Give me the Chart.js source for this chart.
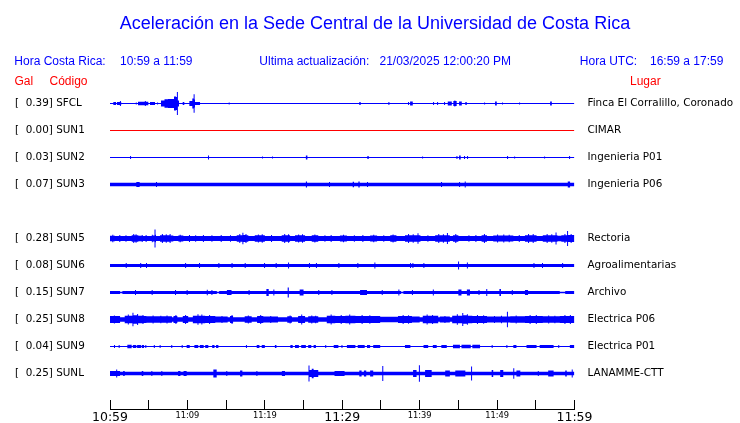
<!DOCTYPE html>
<html lang="es">
<head>
<meta charset="utf-8">
<title>Aceleración - Sede Central UCR</title>
<script src="https://cdn.jsdelivr.net/npm/chart.js@4.4.1/dist/chart.umd.min.js"></script>
<style>
  html, body { margin: 0; padding: 0; background: #fff; }
  #wrap { position: relative; width: 740px; height: 423px; overflow: hidden; }
  #chart { position: absolute; left: 0; top: 0; }
  .hdr {
    position: absolute;
    font-family: "Liberation Sans", Arial, sans-serif;
    font-size: 12px;
    line-height: 14px;
    white-space: pre;
    color: #0000ff;
  }
  .red { color: #ff0000; }
</style>
</head>
<body>
<div id="wrap">
  <canvas id="chart" width="740" height="423"></canvas>
  <div class="hdr" style="left:14.3px;top:54.1px">Hora Costa Rica:</div>
  <div class="hdr" style="left:120px;top:54.1px">10:59 a 11:59</div>
  <div class="hdr" style="left:259.3px;top:54.1px">Ultima actualización:</div>
  <div class="hdr" style="left:379.5px;top:54.1px">21/03/2025 12:00:20 PM</div>
  <div class="hdr" style="left:579.8px;top:54.1px">Hora UTC:</div>
  <div class="hdr" style="left:650px;top:54.1px">16:59 a 17:59</div>
  <div class="hdr red" style="left:14.5px;top:73.8px">Gal</div>
  <div class="hdr red" style="left:49.5px;top:73.8px">Código</div>
  <div class="hdr red" style="left:630px;top:73.8px">Lugar</div>
</div>
<script>
"use strict";

/* ---------------- DATA ---------------- */

// one slot per row; SUN4 sent nothing this hour, its row stays empty
const stationCodes = ["SFCL", "SUN1", "SUN2", "SUN3", null, "SUN5", "SUN6", "SUN7", "SUN8", "SUN9", "SUNL"];
const peakGal = ["0.39", "0.00", "0.03", "0.07", null, "0.28", "0.08", "0.15", "0.25", "0.04", "0.25"];
const places = [
  "Finca El Corralillo, Coronado", "CIMAR", "Ingenieria P01", "Ingenieria P06", null,
  "Rectoria", "Agroalimentarias", "Archivo", "Electrica P06", "Electrica P01", "LANAMME-CTT",
];

// x axis in minutes after 10:59 (Costa Rica time)
const tickMinutes = [0, 5, 10, 15, 20, 25, 30, 35, 40, 45, 50, 55, 60];
const timeTicks = ["10:59", "", "11:09", "", "11:19", "", "11:29", "", "11:39", "", "11:49", "", "11:59"];
const bigTicks = ["10:59", "11:29", "11:59"];

// trace envelopes: [minute, half amplitude in Gal], value holds until the next entry
const envSFCL = [
  [0, .017],
  [0.43, .052], [0.78, .017],
  [0.9, .052], [1.28, .086], [1.41, .052], [1.45, .017],
  [3.33, .034], [3.46, .017],
  [3.62, .059], [4.5, .086], [4.63, .059], [4.95, .017],
  [5.17, .052], [5.81, .017],
  [6.08, .034], [6.21, .017],
  [6.59, .103], [7.04, .148], [7.49, .155], [8.27, .241], [8.53, .224], [8.64, .397], [8.77, .103], [8.91, .017],
  [9.39, .052], [9.6, .017],
  [10.25, .086], [10.63, .172], [10.8, .321], [10.93, .138], [10.98, .052], [11.63, .017],
  [15.33, .034], [15.46, .017],
  [32.2, .052], [32.38, .017],
  [35.96, .052], [36.09, .017],
  [38.5, .052], [38.63, .017], [38.76, .069], [39.11, .017],
  [41.73, .052], [41.86, .017], [42.25, .052], [42.38, .017],
  [43.15, .052], [43.28, .017],
  [43.63, .069], [44.15, .017],
  [44.35, .086], [44.48, .103], [44.61, .086], [44.78, .017],
  [45.09, .069], [45.44, .017],
  [45.9, .052], [46.08, .017],
  [48.32, .034], [48.45, .017],
  [49.74, .069], [49.96, .017],
  [50.64, .034], [50.77, .017],
  [52.84, .034], [52.97, .017],
  [56.85, .069], [57.07, .017],
  [60, .017],
];

const envSUN1 = [[0, .017], [60, .017]];

const envSUN2 = [
  [0, .017],
  [2.59, .052], [2.72, .017],
  [12.66, .069], [12.79, .017],
  [19.64, .034], [19.77, .017],
  [20.93, .034], [21.06, .017],
  [25.3, .069], [25.5, .017],
  [33.24, .052], [33.42, .017],
  [40.31, .034], [40.44, .017],
  [44.75, .052], [44.88, .017],
  [45.09, .069], [45.3, .017],
  [45.73, .052], [45.86, .017],
  [46.12, .052], [46.25, .017],
  [51.29, .052], [51.42, .017],
  [52.2, .034], [52.33, .017],
  [56.07, .034], [56.2, .017],
  [59.3, .052], [59.43, .017],
  [60, .017],
];

const envSUN3 = [
  [0, .06],
  [3.4, .086], [3.83, .06],
  [5.94, .086], [6.07, .06],
  [25.3, .103], [25.45, .06],
  [28.29, .086], [28.42, .06],
  [31.35, .093], [31.52, .06],
  [32.08, .103], [32.25, .06],
  [33.2, .086], [33.33, .06],
  [42.76, .086], [42.89, .06],
  [45.09, .086], [45.22, .06],
  [45.82, .103], [45.95, .06],
  [59.13, .103], [59.43, .06],
  [60, .06],
];

const envSUN5 = [
  [0, .095], [0.3, .13], [0.43, .095], [0.65, .086],
  [1.2, .121], [1.33, .086],
  [2.0, .11], [2.13, .086],
  [2.8, .11], [3.0, .155], [3.13, .11], [3.3, .145], [3.43, .11], [3.66, .095], [4.1, .121], [4.23, .086],
  [4.6, .121], [4.73, .086],
  [5.4, .13], [5.52, .103], [5.75, .31], [5.88, .13], [5.94, .086],
  [6.46, .11], [6.7, .155], [6.83, .11], [7.2, .145], [7.33, .11], [7.7, .155], [7.83, .103], [8.18, .086],
  [8.82, .103], [9.0, .13], [9.13, .103], [9.47, .086],
  [10.2, .121], [10.33, .086],
  [11.0, .11], [11.13, .086],
  [12.0, .121], [12.13, .086],
  [13.1, .11], [13.23, .086],
  [14.3, .121], [14.43, .086],
  [15.5, .11], [15.63, .086],
  [16.37, .11], [16.7, .155], [16.83, .11], [17.1, .2], [17.23, .121], [17.5, .155], [17.63, .11], [17.87, .086],
  [18.7, .11], [19.1, .138], [19.23, .11], [19.6, .145], [19.73, .11], [20.0, .086],
  [20.8, .121], [20.93, .086],
  [22.18, .11], [22.5, .155], [22.63, .11], [23.0, .145], [23.13, .11], [23.26, .086],
  [23.9, .11], [24.3, .138], [24.43, .11], [24.8, .145], [24.93, .11], [25.2, .086],
  [26.06, .11], [26.4, .138], [26.53, .11], [26.9, .086],
  [27.7, .11], [27.83, .086],
  [28.5, .121], [28.63, .086],
  [29.7, .103], [30.1, .13], [30.23, .103], [30.6, .086],
  [31.5, .11], [31.63, .086],
  [32.6, .121], [32.73, .086],
  [33.6, .103], [34.0, .13], [34.13, .103], [34.5, .086],
  [35.3, .11], [35.43, .086],
  [36.2, .11], [36.5, .138], [36.63, .11], [37.0, .086],
  [38.1, .11], [38.5, .155], [38.63, .11], [39.1, .145], [39.23, .11], [39.72, .183], [39.85, .11], [40.1, .086],
  [41.0, .11], [41.13, .086],
  [42.0, .11], [42.4, .155], [42.53, .11], [43.0, .145], [43.13, .11], [43.52, .19], [43.65, .11], [43.9, .086],
  [44.3, .11], [44.6, .155], [44.73, .11], [45.0, .086],
  [46.3, .11], [46.43, .086],
  [47.2, .121], [47.33, .086],
  [48.0, .11], [48.3, .155], [48.43, .11], [48.7, .086],
  [49.5, .103], [50.0, .138], [50.13, .103], [50.8, .138], [50.93, .103], [51.5, .13], [51.63, .103], [52.1, .086],
  [52.8, .121], [52.93, .086],
  [53.6, .11], [54.0, .155], [54.13, .11], [54.6, .155], [54.73, .11], [55.1, .086],
  [55.9, .11], [56.4, .155], [56.53, .11], [57.0, .145], [57.13, .11], [57.55, .207], [57.68, .11],
  [57.8, .095], [58.3, .11], [58.7, .155], [58.83, .11], [59.04, .259], [59.17, .121], [59.5, .155], [59.63, .121],
  [60, .121],
];

const envSUN6 = [
  [0, .052],
  [2.03, .086], [2.16, .052],
  [3.9, .086], [4.03, .052],
  [4.65, .086], [4.78, .052],
  [9.7, .086], [9.83, .052],
  [11.5, .086], [11.63, .052],
  [14.0, .086], [14.13, .052],
  [15.7, .086], [15.83, .052],
  [17.4, .086], [17.53, .052],
  [19.9, .086], [20.03, .052],
  [21.4, .086], [21.53, .052],
  [23.0, .103], [23.13, .052],
  [25.7, .086], [25.83, .052],
  [26.6, .086], [26.73, .052],
  [29.5, .086], [29.63, .052],
  [31.95, .086], [32.08, .052],
  [34.15, .103], [34.28, .052],
  [38.76, .086], [38.89, .052],
  [39.06, .086], [39.19, .052],
  [40.48, .086], [40.61, .052],
  [44.96, .138], [45.09, .052],
  [46.1, .103], [46.23, .052],
  [54.7, .086], [54.83, .052],
  [55.8, .086], [55.93, .052],
  [58.4, .086], [58.53, .052],
  [60, .052],
];

const envSUN7 = [
  [0, .052],
  [1.3, .028], [1.6, .052],
  [3.23, .086], [3.36, .052],
  [5.38, .086], [5.51, .052],
  [8.4, .086], [8.53, .052],
  [9.9, .086], [10.03, .052],
  [12.5, .093], [12.63, .052],
  [13.1, .086], [13.23, .052],
  [13.8, .028], [14.1, .052],
  [15.1, .086], [15.7, .052],
  [17.9, .086], [18.03, .052],
  [20.2, .121], [20.5, .052],
  [21.1, .103], [21.23, .052],
  [22.95, .172], [23.1, .052],
  [24.5, .103], [25.0, .052],
  [26.9, .086], [27.03, .052],
  [28.6, .086], [28.73, .052],
  [32.3, .086], [33.2, .052],
  [35.1, .086], [35.23, .052],
  [37.25, .103], [37.38, .052],
  [37.6, .028], [37.9, .052],
  [39.0, .086], [39.13, .052],
  [41.7, .103], [41.83, .052],
  [45.0, .103], [45.4, .052],
  [46.1, .103], [46.5, .052],
  [47.6, .086], [47.73, .052],
  [48.6, .121], [48.73, .052],
  [50.3, .121], [50.5, .052],
  [51.9, .086], [52.03, .052],
  [53.6, .086], [54.0, .052],
  [58.1, .028], [58.8, .052],
  [60, .052],
];

const envSUN8 = [
  [0, .121], [0.5, .138], [0.63, .121], [1.3, .076],
  [1.9, .13], [2.3, .172], [2.43, .13], [2.9, .231], [3.03, .145], [3.5, .19], [3.63, .13], [4.2, .155], [4.33, .121], [4.7, .11],
  [5.5, .138], [5.63, .11], [6.5, .13], [6.63, .11], [7.3, .138], [7.43, .11], [8.0, .076],
  [8.2, .121], [8.45, .155], [8.58, .121], [8.7, .076],
  [9.4, .121], [9.7, .155], [9.83, .121], [10.1, .076],
  [10.7, .13], [11.3, .183], [11.43, .13], [11.8, .172], [11.93, .13], [12.3, .121], [12.8, .155], [12.93, .121],
  [13.6, .103], [14.4, .121], [14.53, .103], [15.2, .076],
  [15.5, .121], [15.7, .155], [15.83, .121], [15.9, .076],
  [17.4, .11], [17.8, .138], [17.93, .11], [18.3, .076],
  [19.0, .121], [19.4, .155], [19.53, .121], [19.8, .103], [20.7, .121], [20.83, .103], [21.7, .076],
  [22.9, .11], [23.2, .138], [23.33, .11], [23.5, .076],
  [24.3, .121], [24.7, .172], [24.83, .121], [25.2, .076],
  [25.6, .11], [26.0, .138], [26.13, .11], [26.5, .13], [26.63, .11], [26.9, .076],
  [28.0, .13], [28.5, .172], [28.63, .13], [29.1, .121], [29.8, .155], [29.93, .121], [30.4, .13], [30.9, .172], [31.03, .13],
  [31.7, .121], [32.5, .155], [32.63, .121], [33.5, .145], [33.63, .121], [34.9, .095],
  [37.2, .121], [37.8, .155], [37.93, .121], [38.5, .145], [38.63, .121], [39.0, .103], [40.0, .076],
  [40.4, .13], [40.9, .172], [41.03, .13], [41.6, .155], [41.73, .13], [42.4, .076],
  [42.6, .103], [43.2, .121], [43.33, .103], [43.9, .076],
  [44.2, .13], [44.8, .183], [44.93, .13], [45.5, .224], [45.63, .145], [46.1, .183], [46.23, .13],
  [46.8, .121], [47.4, .155], [47.53, .121], [48.2, .145], [48.33, .121], [48.7, .103],
  [49.6, .121], [49.73, .103], [50.5, .13], [50.63, .103],
  [51.27, .269], [51.4, .103],
  [51.7, .11], [52.4, .138], [52.53, .11], [53.6, .121], [54.2, .155], [54.33, .121], [55.0, .155], [55.13, .121],
  [55.9, .11], [56.6, .138], [56.73, .11], [57.4, .13], [57.53, .11], [58.1, .121], [58.7, .155], [58.83, .121],
  [59.4, .155], [59.53, .121],
  [60, .121],
];

const envSUN9 = [
  [0, .017],
  [0.52, .052], [0.65, .017],
  [1.12, .052], [1.25, .017],
  [2.24, .059], [2.8, .017],
  [2.95, .052], [3.4, .017], [3.5, .052], [4.0, .017], [4.1, .052], [4.4, .017],
  [4.56, .052], [4.69, .017],
  [5.66, .052], [5.79, .017],
  [6.41, .052], [6.54, .017],
  [7.91, .052], [8.04, .017],
  [9.26, .052], [9.39, .017],
  [9.9, .052], [10.3, .017],
  [10.9, .052], [11.4, .017], [11.6, .052], [12.1, .017], [12.3, .052], [12.7, .017],
  [13.2, .052], [13.5, .017], [13.7, .052], [14.0, .017],
  [17.56, .052], [17.69, .017],
  [18.95, .052], [19.3, .017], [19.6, .052], [20.0, .017],
  [21.3, .052], [21.5, .017],
  [23.3, .052], [23.6, .017], [23.9, .052], [24.4, .017], [24.7, .052], [25.3, .017],
  [25.6, .052], [26.0, .017], [26.3, .052], [26.6, .017],
  [27.8, .052], [27.93, .017],
  [28.9, .052], [29.5, .017],
  [29.9, .052], [30.03, .017],
  [30.6, .052], [31.7, .017],
  [32.0, .052], [32.9, .017],
  [33.2, .052], [33.6, .017],
  [34.0, .052], [34.9, .017],
  [38.1, .052], [38.8, .017],
  [40.5, .052], [41.1, .017],
  [41.7, .052], [42.2, .017],
  [42.8, .052], [43.5, .017],
  [44.3, .059], [45.2, .017], [45.4, .059], [46.6, .017], [46.8, .059], [47.8, .017],
  [49.3, .052], [49.43, .017],
  [51.2, .052], [51.33, .017],
  [52.1, .052], [52.5, .017],
  [53.8, .052], [55.1, .017],
  [55.5, .052], [57.3, .017],
  [57.9, .052], [58.03, .017],
  [59.4, .052],
  [60, .052],
];

const envSUNL = [
  [0, .086], [0.8, .138], [0.93, .086], [1.3, .059],
  [1.7, .086], [1.9, .059],
  [4.1, .086], [4.3, .059],
  [5.34, .086], [5.47, .059],
  [6.63, .086], [6.76, .059],
  [8.8, .086], [9.1, .059], [9.5, .086], [9.9, .059],
  [13.35, .138], [13.78, .059],
  [15.02, .086], [15.15, .059],
  [16.8, .103], [17.1, .059],
  [18.91, .086], [19.04, .059],
  [22.2, .086], [22.6, .059],
  [25.64, .276], [25.77, .121], [26.06, .162], [26.3, .121], [26.9, .059],
  [29.0, .086], [30.3, .059],
  [32.2, .103], [32.5, .059], [32.8, .103], [33.1, .059], [33.6, .103], [34.0, .059],
  [35.17, .259], [35.3, .059],
  [39.15, .121], [39.6, .059],
  [39.9, .286], [40.03, .059],
  [40.7, .121], [41.55, .059],
  [43.3, .103], [43.9, .059],
  [44.6, .103], [45.9, .059],
  [46.64, .241], [46.77, .059],
  [49.3, .121], [49.5, .059],
  [50.4, .121], [50.8, .059],
  [52.09, .183], [52.22, .059],
  [52.5, .103], [53.0, .059],
  [55.26, .086], [55.39, .059],
  [56.6, .103], [57.3, .059],
  [58.8, .103], [59.0, .059],
  [59.64, .138], [59.77, .059],
  [60, .059],
];

const envelopes = [envSFCL, envSUN1, envSUN2, envSUN3, null, envSUN5, envSUN6, envSUN7, envSUN8, envSUN9, envSUNL];

/* ---------------- LOOK ---------------- */

const BLUE = "#0000ff";
const RED = "#ff0000";
const GAL_PER_ROW = 0.93;   // one row gap on screen = 0.93 Gal of trace
const LABEL_FONT = { family: "DejaVu Sans", size: 10.4 };

/* ---------------- DATASETS ---------------- */

// each trace = upper edge + lower edge, filled between them
function traceDatasets() {
  const sets = [];
  envelopes.forEach((env, row) => {
    if (!env) return;
    const color = Number(peakGal[row]) === 0 ? RED : BLUE;
    const edge = sign => env.map(([t, g]) => ({ x: t, y: row + sign * g / GAL_PER_ROW }));
    sets.push({ data: edge(-1), stepped: "before", borderWidth: 0, pointRadius: 0, fill: false });
    sets.push({ data: edge(1), stepped: "before", borderWidth: 0, pointRadius: 0, fill: "-1", backgroundColor: color });
  });
  return sets;
}

function rowTicks() {
  return stationCodes
    .map((code, i) => (code ? { value: i } : null))
    .filter(Boolean);
}

// fixed side widths; label overhang must not push the plot area around
function fixWidth(w) {
  return s => {
    s.width = w;
    s.paddingTop = 0;
    s.paddingBottom = 0;
  };
}

const rowAxis = {
  type: "linear",
  reverse: true,
  min: -0.5,
  max: 11.315,
  afterBuildTicks: s => { s.ticks = rowTicks(); },
  grid: { display: false, drawTicks: false },
  border: { display: false },
};

/* ---------------- CHART ---------------- */

new Chart(document.getElementById("chart"), {
  type: "line",
  data: { datasets: traceDatasets() },
  options: {
    responsive: false,
    animation: false,
    events: [],
    layout: { padding: { left: 15, right: 5, top: 0, bottom: 0 } },
    plugins: {
      legend: { display: false },
      tooltip: { enabled: false },
      title: {
        display: true,
        text: "Aceleración en la Sede Central de la Universidad de Costa Rica",
        color: BLUE,
        font: { family: "Liberation Sans", size: 18, weight: "normal", lineHeight: 1.2 },
        padding: { top: 13.6, bottom: 54.8 },
      },
    },
    scales: {
      x: {
        type: "linear",
        position: "bottom",
        min: 0,
        max: 60,
        afterBuildTicks: s => { s.ticks = tickMinutes.map(v => ({ value: v })); },
        afterFit: s => { s.height = 14; },
        border: { display: true, color: "#000", width: 1 },
        grid: { drawOnChartArea: false, drawTicks: true, tickLength: -9, color: "#000" },
        ticks: {
          autoSkip: false,
          maxRotation: 0,
          padding: 12.4,
          color: "#000",
          callback: (v, i) => timeTicks[i],
          font: ctx => ({
            family: "DejaVu Sans",
            size: bigTicks.includes(timeTicks[ctx.index]) ? 12.5 : 8.3,
            lineHeight: 0.81,
          }),
        },
      },
      y: {
        ...rowAxis,
        position: "left",
        afterFit: fixWidth(95),
        ticks: {
          crossAlign: "far",
          padding: 0,
          color: "#000",
          font: LABEL_FONT,
          callback: v => `[  ${peakGal[v]}] ${stationCodes[v]}`,
        },
      },
      y2: {
        ...rowAxis,
        position: "right",
        afterFit: fixWidth(160.5),
        ticks: {
          crossAlign: "near",
          padding: 13,
          color: "#000",
          font: LABEL_FONT,
          callback: v => places[v],
        },
      },
    },
  },
});
</script>
</body>
</html>
